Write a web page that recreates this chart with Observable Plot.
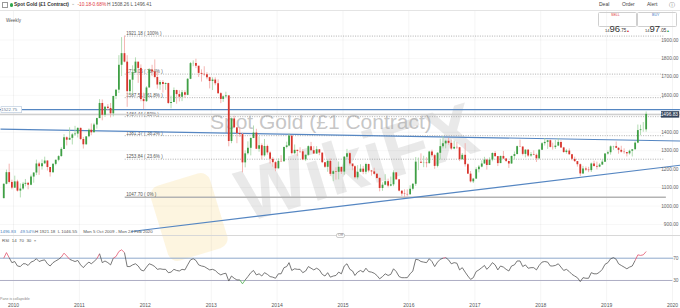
<!DOCTYPE html>
<html><head><meta charset="utf-8">
<script src="https://cdn.jsdelivr.net/npm/d3@7"></script>
<script src="https://cdn.jsdelivr.net/npm/@observablehq/plot@0.6"></script>
<style>
body{margin:0;background:#fff;}
#wrap{position:relative;width:680px;height:308px;overflow:hidden;background:#fff;font-family:"Liberation Sans",Arial,sans-serif;}
.abs{position:absolute;white-space:nowrap;line-height:1;}
.t5{font-size:5px;color:#555;}
</style></head><body>
<div id="wrap">
  <div class="abs" id="wm1" style="left:210px;top:111px;font-size:21px;color:rgba(150,150,150,0.55);">Spot Gold (£1 Contract)</div>
  <div class="abs" style="left:158px;top:178px;width:62px;height:78px;border-radius:10px;background:rgba(245,190,60,0.16);transform:rotate(-17deg);"></div>
  <div class="abs" style="left:250px;top:160px;font-size:74px;font-weight:bold;color:rgba(170,170,170,0.26);transform:rotate(-17deg);transform-origin:left bottom;">WikiFX</div>
  <div class="abs" id="main" style="left:0;top:10px;"></div>
  <div class="abs" id="rsi" style="left:0;top:236px;"></div>

  <div class="abs" style="left:0;top:9.5px;width:680px;height:1px;background:#e4e4e4;"></div>
  <div class="abs" style="left:0;top:235px;width:680px;height:1px;background:#d8d8d8;"></div>
  <div class="abs" style="left:2px;top:2px;width:4px;height:4px;border:0.6px solid #999;"></div>
  <div class="abs" style="left:9.5px;top:3px;width:3.5px;height:3.5px;border-radius:50%;background:#2fa84f;"></div>
  <div class="abs" style="left:14px;top:2.5px;font-size:4.9px;color:#333;font-weight:600;">Spot Gold (£1 Contract)</div>
  <div class="abs" style="left:71px;top:1.5px;font-size:4.6px;color:#999;">⌄</div>
  <div class="abs" style="left:77.5px;top:2.6px;font-size:4.8px;color:#e0383e;">-10.18</div>
  <div class="abs" style="left:91px;top:2.6px;font-size:4.8px;color:#e0383e;">-0.68%</div>
  <div class="abs" style="left:107px;top:2.6px;font-size:4.8px;color:#555;">H 1508.26 L 1496.41</div>
  <div class="abs t5" style="left:599px;top:2.2px;color:#444;">Deal</div>
  <div class="abs t5" style="left:622px;top:2.2px;color:#444;">Order</div>
  <div class="abs t5" style="left:647px;top:2.2px;color:#444;">Alert</div>
  <div class="abs" style="left:669px;top:1.5px;font-size:6px;color:#777;">ⓘ</div>
  <div class="abs" style="left:6px;top:18.5px;font-size:4.6px;color:#555;">Weekly</div>

  <div class="abs" style="left:598px;top:12px;width:39px;height:15px;border:0.7px solid #cfcfcf;border-radius:1.5px;box-sizing:border-box;"></div>
  <div class="abs" style="left:637px;top:12px;width:40px;height:15px;border:0.7px solid #cfcfcf;border-radius:1.5px;box-sizing:border-box;"></div>
  <div class="abs" style="left:611px;top:14px;font-size:3.6px;color:#e0383e;">SELL</div>
  <div class="abs" style="left:652px;top:14px;font-size:3.6px;color:#3b78c4;">BUY</div>
  <div class="abs" style="left:605px;top:18.5px;color:#333;"><span style="font-size:4px;">14</span><span style="font-size:9.5px;">96</span><span style="font-size:4.5px;">.75</span><span style="font-size:3.5px;color:#e0383e;">▲</span></div>
  <div class="abs" style="left:645px;top:18.5px;color:#333;"><span style="font-size:4px;">14</span><span style="font-size:9.5px;">97</span><span style="font-size:4.5px;">.05</span><span style="font-size:3.5px;color:#2fa84f;">▲</span></div>

  <div class="abs" style="left:0px;top:230px;font-size:4.4px;color:#4a7fc0;">1496.83</div>
  <div class="abs" style="left:20px;top:230px;font-size:4.4px;color:#4a7fc0;">49.54%</div>
  <div class="abs" style="left:35px;top:230px;font-size:4.4px;color:#555;">H 1921.18 &nbsp;L 1046.55 &nbsp;&nbsp;&nbsp;&nbsp;Mon 5 Oct 2009 - Mon 24 Feb 2020</div>
  <div class="abs" style="left:336px;top:232.5px;font-size:3.8px;color:#777;background:#fff;border:0.5px solid #ccc;border-radius:2px;padding:0 1px;">Off</div>
  <div class="abs" style="left:2px;top:239px;font-size:4.4px;color:#555;">RSI &nbsp;14 &nbsp;70 &nbsp;30 &nbsp;×</div>
  <div class="abs" style="left:0px;top:297.5px;font-size:3.6px;color:#888;">Pane is collapsible</div>
</div>
<script>
// ---- price data: semi-monthly candles, Nov 2009 .. Aug 2019 (spot gold, USD) ----
const firstOpen = 1040;
const close = [
 1118,1181,1128,1097,
 1131,1081,1092,1118,1123,1113,1157,1179,1228,1213,1229,1244,1209,1181,1226,1248,1268,1307,1370,1357,1367,1386,1390,1421,
 1361,1332,1375,1411,1397,1439,1474,1556,1492,1536,1529,1500,1594,1628,1763,1826,1780,1620,1682,1722,1780,1746,1577,1566,
 1640,1737,1727,1697,1656,1669,1659,1664,1556,1561,1626,1604,1590,1614,1600,1687,1772,1773,1758,1719,1714,1711,1696,1675,
 1683,1663,1609,1578,1592,1597,1350,1472,1424,1393,1387,1234,1283,1313,1366,1396,1308,1327,1272,1323,1288,1253,1235,1202,
 1242,1240,1318,1326,1379,1284,1302,1296,1294,1250,1275,1322,1300,1282,1305,1287,1235,1210,1242,1172,1186,1183,1210,1184,
 1265,1284,1228,1213,1153,1183,1200,1183,1225,1190,1185,1172,1150,1095,1113,1132,1108,1115,1180,1142,1081,1065,1063,1061,
 1091,1118,1238,1238,1232,1233,1230,1293,1273,1215,1286,1322,1337,1351,1340,1309,1318,1316,1251,1275,1224,1173,1131,1146,
 1197,1211,1228,1249,1220,1249,1285,1268,1230,1269,1255,1242,1228,1269,1279,1322,1320,1280,1303,1271,1278,1275,1256,1303,
 1338,1345,1354,1318,1317,1325,1345,1315,1290,1298,1278,1253,1241,1224,1174,1201,1195,1192,1228,1215,1211,1222,1238,1282,
 1289,1321,1322,1313,1302,1292,1290,1283,1297,1305,1341,1409,1413,1413,1497
];
const high = [
 1120,1195,1227,1140,
 1162,1140,1120,1128,1144,1128,1168,1180,1249,1237,1250,1265,1245,1205,1228,1250,1273,1316,1387,1375,1424,1393,1432,1424,
 1423,1372,1376,1418,1445,1448,1476,1577,1575,1540,1550,1556,1595,1632,1815,1913,1921.18,1815,1685,1760,1803,1770,1765,1612,
 1647,1745,1763,1792,1725,1680,1680,1668,1666,1595,1640,1628,1625,1626,1625,1691,1778,1787,1796,1755,1738,1755,1723,1698,
 1695,1695,1684,1615,1597,1617,1598,1477,1487,1416,1424,1395,1299,1348,1370,1434,1416,1375,1337,1361,1330,1294,1262,1240,
 1256,1273,1320,1346,1392,1380,1331,1303,1316,1305,1278,1326,1345,1322,1322,1305,1287,1236,1250,1255,1192,1208,1239,1205,
 1268,1307,1289,1225,1218,1219,1224,1215,1232,1227,1193,1205,1175,1152,1126,1170,1146,1157,1191,1180,1144,1080,1088,1088,
 1110,1122,1263,1260,1283,1270,1262,1297,1303,1280,1290,1362,1375,1357,1367,1356,1352,1344,1318,1285,1338,1230,1187,1150,
 1207,1220,1245,1264,1254,1261,1288,1295,1268,1270,1296,1258,1242,1270,1293,1325,1357,1320,1305,1306,1290,1299,1282,1305,
 1344,1366,1356,1358,1341,1356,1366,1354,1318,1307,1310,1280,1265,1235,1228,1215,1212,1210,1233,1243,1238,1230,1250,1284,
 1298,1326,1324,1347,1316,1324,1310,1287,1303,1306,1348,1439,1438,1453,1510
];
const low = [
 1040,1115,1120,1088,
 1095,1076,1044,1085,1104,1088,1110,1124,1165,1166,1195,1225,1190,1157,1178,1218,1240,1265,1307,1326,1355,1331,1377,1369,
 1355,1309,1330,1370,1381,1397,1417,1474,1462,1480,1517,1478,1483,1577,1610,1702,1776,1535,1600,1604,1720,1665,1565,1523,
 1562,1640,1703,1690,1634,1627,1612,1627,1551,1527,1560,1552,1564,1566,1583,1598,1685,1755,1745,1697,1672,1703,1684,1635,
 1626,1652,1605,1555,1562,1590,1321,1338,1420,1338,1372,1180,1207,1276,1272,1365,1306,1292,1251,1265,1276,1228,1211,1186,
 1200,1238,1238,1310,1321,1277,1278,1268,1285,1246,1241,1270,1298,1281,1281,1273,1230,1204,1183,1161,1132,1141,1142,1171,
 1167,1250,1217,1191,1146,1142,1181,1170,1170,1180,1162,1168,1145,1077,1080,1110,1098,1104,1105,1141,1077,1052,1046,1050,
 1060,1082,1107,1192,1230,1208,1207,1227,1261,1199,1207,1250,1310,1310,1330,1302,1305,1306,1241,1250,1211,1171,1125,1122,
 1146,1180,1207,1226,1195,1220,1240,1263,1214,1231,1252,1236,1204,1226,1250,1278,1318,1272,1261,1263,1264,1273,1236,1251,
 1301,1325,1307,1315,1303,1307,1322,1313,1286,1281,1276,1245,1236,1211,1160,1172,1187,1181,1182,1211,1196,1208,1221,1236,
 1276,1276,1302,1311,1281,1287,1281,1266,1276,1266,1305,1338,1382,1400,1400
];
// ---- RSI(14), same periods ----
const rsi = [
 70,80,71,62,
 64,56,55,60,60,57,63,65,69,64,66,67,60,56,62,65,68,72,79,74,68,66,64,66,
 58,53,59,63,60,64,69,78,62,65,62,58,70,73,82,85,80,55,55,58,60,56,49,47,
 54,60,58,55,50,51,50,50,44,45,50,48,47,50,49,58,67,69,66,58,56,55,52,49,
 50,48,43,40,42,43,29,38,34,31,31,24,31,37,44,48,40,42,38,44,41,37,36,34,
 42,42,53,55,62,48,51,50,50,44,47,55,52,49,52,49,41,38,44,36,38,39,45,42,
 56,60,50,47,39,45,48,45,52,46,45,43,39,33,37,42,39,41,51,46,37,35,35,35,
 42,47,68,67,64,63,62,69,64,55,63,68,70,71,67,60,62,61,49,53,45,38,32,35,
 46,49,53,57,50,55,62,58,49,56,54,50,47,56,58,65,65,55,58,52,53,53,49,57,
 63,64,63,56,56,57,60,54,48,50,46,41,38,35,28,35,34,34,44,42,42,45,50,59,
 62,69,71,68,60,57,54,51,54,56,66,76,75,76,82
];
const yearTicks = [2010,2011,2012,2013,2014,2015,2016,2017,2018,2019,2020];
const priceTicks = [900,1000,1100,1200,1300,1400,1500,1600,1700,1800,1900];
const fibLevels = [1921.18,1715.05,1587.51,1484.44,1381.37,1253.84,1047.70];
const fibPcts = ["100%","76.4%","61.8%","50%","38.2%","23.6%","0%"];
const resistance = 1522.75;
const lastPrice = 1496.83;
const trendLines = [
  {from:"2009-10-21", p1:1416.5, to:"2020-02-14", p2:1352.6},
  {from:"2011-10-16", p1:862, to:"2020-02-14", p2:1221.4}
];
const rsiLevels = [70, 30];

// ---- build tables ----
const dates = close.map((_, i) => new Date(Date.UTC(2009, 10 + Math.floor(i / 2), i % 2 ? 23 : 8)));
const candles = close.map((c, i) => ({date: dates[i], open: i ? close[i - 1] : firstOpen, close: c, high: high[i], low: low[i]}));
const years = yearTicks.map(y => new Date(Date.UTC(y, 0, 1)));
const rsiSeg = rsi.slice(1).map((v, i) => ({d1: dates[i], v1: rsi[i], d2: dates[i + 1], v2: v}));

const UP = "#3f9f45", DOWN = "#d8352d", UPW = "#9fd3a0", DOWNW = "#f1a3a0", BLUE = "#5586c2";
const xDomain = [new Date(Date.UTC(2010,0,1)), new Date(Date.UTC(2020,0,1))];
const xRange = [13, 672];
const xStart = new Date(Date.UTC(2009,9,21)), xEnd = new Date(Date.UTC(2020,1,14));
const fibStart = new Date(Date.UTC(2011,8,12)), fibEnd = new Date(Date.UTC(2019,10,20)), fib0End = new Date(Date.UTC(2019,10,28));
const font = '"Liberation Sans", Arial, sans-serif';

const main = Plot.plot({
  width: 680, height: 226, marginTop: 0, marginBottom: 0, marginLeft: 0, marginRight: 2,
  style: {background: "transparent", fontFamily: font, fontSize: "5px", overflow: "visible"},
  x: {type: "utc", domain: xDomain, range: xRange, axis: null},
  y: {domain: [900, 1900], range: [214, 29.5], axis: null},
  marks: [
    Plot.ruleX(years, {x: d => d, stroke: "#000", strokeOpacity: 0.06, strokeWidth: 0.8}),
    Plot.ruleY(priceTicks, {y: d => d, stroke: "#000", strokeOpacity: 0.045, strokeWidth: 0.8}),
    Plot.ruleY(fibLevels.slice(0, 6), {y: d => d, x1: () => fibStart, x2: () => fibEnd, stroke: "#9a9a9a", strokeWidth: 0.8, strokeDasharray: "1,1.4"}),
    Plot.ruleY(fibLevels.slice(6), {y: d => d, x1: () => fibStart, x2: () => fib0End, stroke: "#b3b3b3", strokeWidth: 1.4}),
    Plot.text(fibLevels, {x: () => fibStart, y: d => d, text: (d, i) => `${d.toFixed(2)} ( ${fibPcts[i]} )`, textAnchor: "start", dx: 1, dy: -2.6, fill: "#555", fontSize: 4.6}),
    Plot.ruleY([lastPrice], {y: d => d, x1: () => xStart, x2: () => xEnd, stroke: "#cfcfcf", strokeWidth: 1.5}),
    Plot.ruleY([resistance], {y: d => d, x1: () => xStart, x2: () => xEnd, stroke: BLUE, strokeWidth: 1.2}),
    Plot.link(trendLines, {x1: d => new Date(d.from), y1: "p1", x2: d => new Date(d.to), y2: "p2", stroke: BLUE, strokeWidth: 1.2}),
    Plot.ruleX(candles, {x: "date", y1: "low", y2: "high", stroke: d => d.close >= d.open ? UPW : DOWNW, strokeWidth: 0.8}),
    Plot.ruleX(candles, {x: "date", y1: "open", y2: "close", stroke: d => d.close >= d.open ? UP : DOWN, strokeWidth: 1.8}),
    Plot.text(priceTicks.filter(d => d !== 1500), {y: d => d, frameAnchor: "right", textAnchor: "end", text: d => d3.format(".2f")(d), fill: "#666", fontSize: 4.8}),
    Plot.ruleY([lastPrice], {y: d => d, x1: () => new Date(Date.UTC(2019,10,1)), x2: () => new Date(Date.UTC(2020,1,10)), stroke: "#34445c", strokeWidth: 6.5}),
    Plot.text([lastPrice], {y: d => d, frameAnchor: "right", textAnchor: "end", text: d => d.toFixed(2), fill: "#fff", fontSize: 4.8, dx: -0.5}),
    Plot.ruleY([resistance], {y: d => d, x1: () => new Date(Date.UTC(2009,9,25)), x2: () => new Date(Date.UTC(2010,1,20)), stroke: "#b9c9dc", strokeWidth: 6.5}),
    Plot.ruleY([resistance], {y: d => d, x1: () => new Date(Date.UTC(2009,9,28)), x2: () => new Date(Date.UTC(2010,1,16)), stroke: "#fff", strokeWidth: 5.2}),
    Plot.text([resistance], {x: () => new Date(Date.UTC(2009,11,8)), y: d => d, text: d => d.toFixed(2), fill: "#6a7f99", fontSize: 4.4})
  ]
});
document.getElementById("main").appendChild(main);

const rsiPlot = Plot.plot({
  width: 680, height: 72, marginTop: 0, marginBottom: 6, marginLeft: 0, marginRight: 2,
  style: {background: "transparent", fontFamily: font, fontSize: "5px", color: "#555", overflow: "visible"},
  x: {type: "utc", domain: xDomain, range: xRange, ticks: years, tickFormat: d3.utcFormat("%Y"), tickSize: 0, tickPadding: 1, label: null},
  y: {domain: [0, 100], range: [60.7, 4.98], axis: null},
  marks: [
    Plot.ruleX(years, {x: d => d, stroke: "#000", strokeOpacity: 0.06, strokeWidth: 0.8}),
    Plot.ruleY([rsiLevels[0]], {y: d => d, stroke: "#8ea8cb", strokeWidth: 1}),
    Plot.ruleY([rsiLevels[1]], {y: d => d, stroke: "#adadc4", strokeWidth: 1}),
    Plot.link(rsiSeg, {x1: "d1", y1: "v1", x2: "d2", y2: "v2", strokeWidth: 0.8,
      stroke: d => (d.v1 + d.v2) / 2 > 70 ? "#e2566e" : (d.v1 + d.v2) / 2 < 30 ? "#4caf50" : "#555"}),
    Plot.text(rsiLevels, {y: d => d, frameAnchor: "right", textAnchor: "end", text: d => String(d), fill: "#666", fontSize: 4.8, stroke: "#fff", strokeWidth: 2})
  ]
});
document.getElementById("rsi").appendChild(rsiPlot);
</script>
</body></html>
